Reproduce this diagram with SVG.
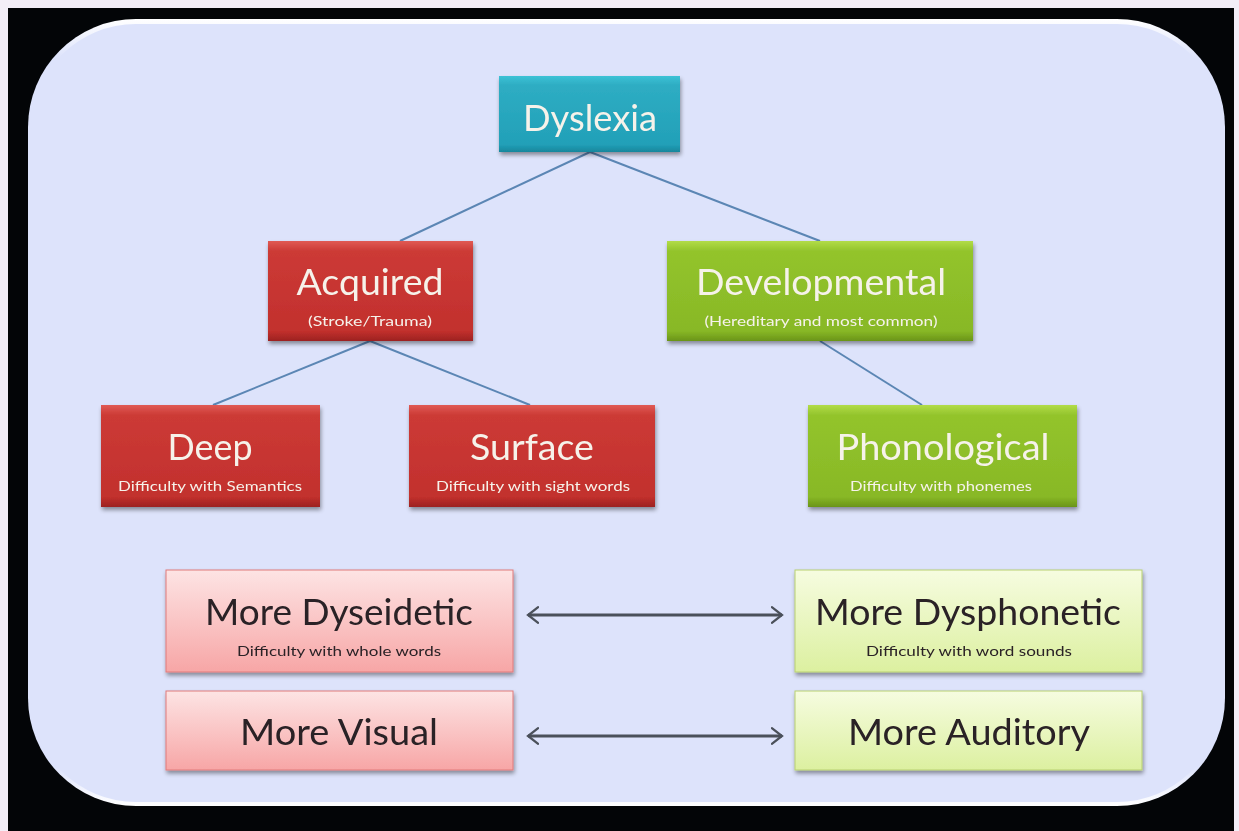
<svg xmlns="http://www.w3.org/2000/svg" width="1239" height="831" viewBox="0 0 1239 831">
<style>
.t{font-family:Lato,"Open Sans","Liberation Sans",sans-serif;text-anchor:middle}
.w{fill:#f6f2ea}
.d{fill:#2a2226}
.big{font-size:37px}
.sm{font-size:14px}
.con{stroke:#5b86b4;stroke-width:2;fill:none}
.arr{stroke:#4a505a;stroke-width:3;fill:none;marker-start:url(#ah);marker-end:url(#ah)}
</style>
<defs>
<linearGradient id="gTeal" x1="0" y1="0" x2="0" y2="1"><stop offset="0" stop-color="#3cc2d6"/><stop offset="0.12" stop-color="#2eadc3"/><stop offset="0.9" stop-color="#22a0b8"/><stop offset="1" stop-color="#17869c"/></linearGradient>
<linearGradient id="gRed" x1="0" y1="0" x2="0" y2="1"><stop offset="0" stop-color="#e05a54"/><stop offset="0.1" stop-color="#cc3a36"/><stop offset="0.9" stop-color="#c2302d"/><stop offset="1" stop-color="#9c2220"/></linearGradient>
<linearGradient id="gGreen" x1="0" y1="0" x2="0" y2="1"><stop offset="0" stop-color="#b2dc48"/><stop offset="0.1" stop-color="#93c42c"/><stop offset="0.9" stop-color="#88b826"/><stop offset="1" stop-color="#6a9418"/></linearGradient>
<linearGradient id="gPink" x1="0" y1="0" x2="0" y2="1"><stop offset="0" stop-color="#fde4e4"/><stop offset="1" stop-color="#f7a6a6"/></linearGradient>
<linearGradient id="gLime" x1="0" y1="0" x2="0" y2="1"><stop offset="0" stop-color="#f6fce0"/><stop offset="1" stop-color="#dcf0a0"/></linearGradient>
<linearGradient id="gPanel" x1="0" y1="0" x2="0" y2="1"><stop offset="0" stop-color="#ffffff"/><stop offset="0.05" stop-color="#dde3fb"/><stop offset="0.95" stop-color="#dde3fb"/><stop offset="1" stop-color="#ffffff"/></linearGradient>
<filter id="sh" x="-10%" y="-10%" width="120%" height="130%"><feGaussianBlur in="SourceAlpha" stdDeviation="2"/><feOffset dx="1" dy="3" result="b"/><feComponentTransfer><feFuncA type="linear" slope="0.4"/></feComponentTransfer><feMerge><feMergeNode/><feMergeNode in="SourceGraphic"/></feMerge></filter>
<marker id="ah" viewBox="0 0 12 16" refX="10" refY="8" markerWidth="4.5" markerHeight="6.4" orient="auto-start-reverse" markerUnits="strokeWidth"><path d="M1,1 L10,8 L1,15" fill="none" stroke="#4a505a" stroke-width="2" stroke-linecap="round"/></marker>
</defs>
<rect x="0" y="0" width="1239" height="831" fill="#f3eef7"/>
<rect x="8" y="8" width="1226" height="823" fill="#030507"/>
<rect id="panel" x="28" y="19" width="1197" height="787" rx="108" ry="108" fill="url(#gPanel)"/>
<rect x="31" y="24" width="1191" height="778" rx="105" ry="105" fill="#dde3fb"/>
<g id="connectors">
<line class="con" x1="590" y1="152" x2="400" y2="241"/>
<line class="con" x1="590" y1="152" x2="820" y2="241"/>
<line class="con" x1="370" y1="341" x2="213" y2="405"/>
<line class="con" x1="370" y1="341" x2="530" y2="405"/>
<line class="con" x1="820" y1="341" x2="922" y2="405"/>
<line class="arr" x1="528" y1="615" x2="782" y2="615"/>
<line class="arr" x1="528" y1="736" x2="782" y2="736"/>
</g>
<g id="dyslexia" filter="url(#sh)">
<rect x="499" y="76" width="181" height="76" fill="url(#gTeal)"/>
<text class="t w big" x="590" y="131" textLength="134" lengthAdjust="spacingAndGlyphs">Dyslexia</text>
</g>
<g id="acquired" filter="url(#sh)">
<rect x="268" y="241" width="205" height="100" fill="url(#gRed)"/>
<text class="t w big" x="370" y="295" textLength="147" lengthAdjust="spacingAndGlyphs">Acquired</text>
<text class="t w sm" x="370" y="326" textLength="124" lengthAdjust="spacingAndGlyphs">(Stroke/Trauma)</text>
</g>
<g id="developmental" filter="url(#sh)">
<rect x="667" y="241" width="306" height="100" fill="url(#gGreen)"/>
<text class="t w big" x="821" y="295" textLength="250" lengthAdjust="spacingAndGlyphs">Developmental</text>
<text class="t w sm" x="821" y="326" textLength="233" lengthAdjust="spacingAndGlyphs">(Hereditary and most common)</text>
</g>
<g id="deep" filter="url(#sh)">
<rect x="101" y="405" width="219" height="102" fill="url(#gRed)"/>
<text class="t w big" x="210" y="460" textLength="85" lengthAdjust="spacingAndGlyphs">Deep</text>
<text class="t w sm" x="210" y="491" textLength="184" lengthAdjust="spacingAndGlyphs">Difficulty with Semantics</text>
</g>
<g id="surface" filter="url(#sh)">
<rect x="409" y="405" width="246" height="102" fill="url(#gRed)"/>
<text class="t w big" x="532" y="460" textLength="124" lengthAdjust="spacingAndGlyphs">Surface</text>
<text class="t w sm" x="533" y="491" textLength="194" lengthAdjust="spacingAndGlyphs">Difficulty with sight words</text>
</g>
<g id="phonological" filter="url(#sh)">
<rect x="808" y="405" width="269" height="102" fill="url(#gGreen)"/>
<text class="t w big" x="943" y="460" textLength="213" lengthAdjust="spacingAndGlyphs">Phonological</text>
<text class="t w sm" x="941" y="491" textLength="182" lengthAdjust="spacingAndGlyphs">Difficulty with phonemes</text>
</g>
<g id="dyseidetic" filter="url(#sh)">
<rect x="166" y="570" width="347" height="102" fill="url(#gPink)" stroke="#e07a7a" stroke-width="1"/>
<text class="t d big" x="339" y="625" textLength="268" lengthAdjust="spacingAndGlyphs">More Dyseidetic</text>
<text class="t d sm" x="339" y="656" textLength="204" lengthAdjust="spacingAndGlyphs">Difficulty with whole words</text>
</g>
<g id="visual" filter="url(#sh)">
<rect x="166" y="691" width="347" height="79" fill="url(#gPink)" stroke="#e07a7a" stroke-width="1"/>
<text class="t d big" x="339" y="745" textLength="198" lengthAdjust="spacingAndGlyphs">More Visual</text>
</g>
<g id="dysphonetic" filter="url(#sh)">
<rect x="795" y="570" width="347" height="102" fill="url(#gLime)" stroke="#b8d070" stroke-width="1"/>
<text class="t d big" x="968" y="625" textLength="306" lengthAdjust="spacingAndGlyphs">More Dysphonetic</text>
<text class="t d sm" x="969" y="656" textLength="206" lengthAdjust="spacingAndGlyphs">Difficulty with word sounds</text>
</g>
<g id="auditory" filter="url(#sh)">
<rect x="795" y="691" width="347" height="79" fill="url(#gLime)" stroke="#b8d070" stroke-width="1"/>
<text class="t d big" x="969" y="745" textLength="242" lengthAdjust="spacingAndGlyphs">More Auditory</text>
</g>
</svg>
